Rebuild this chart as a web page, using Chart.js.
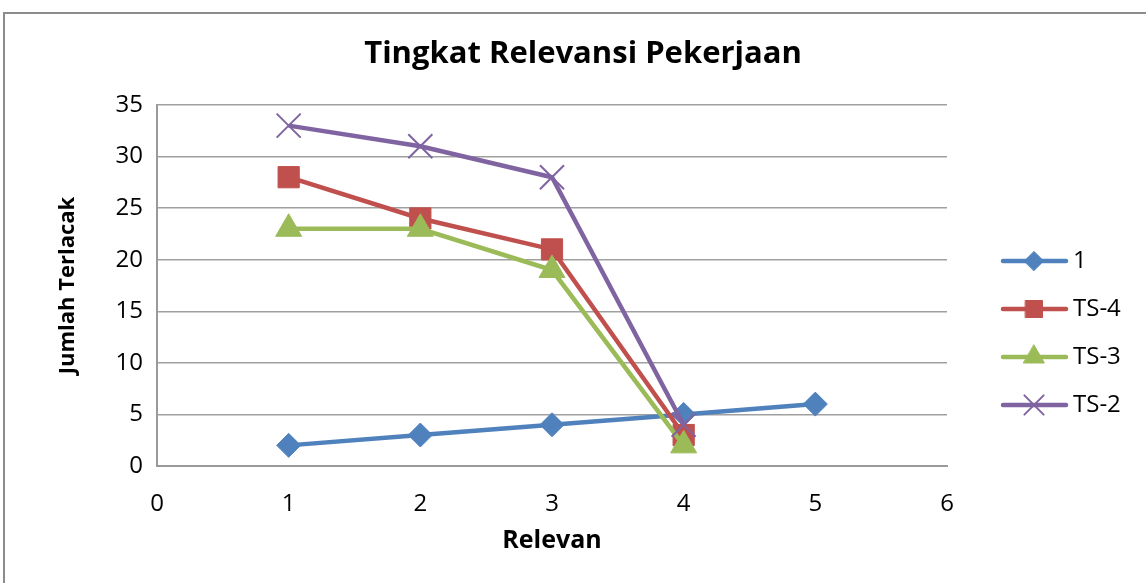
<!DOCTYPE html>
<html>
<head>
<meta charset="utf-8">
<script src="https://cdn.jsdelivr.net/npm/chart.js@4.4.0/dist/chart.umd.min.js"></script>
<style>
body{margin:0;background:#fff;}
#frame{position:absolute;left:3px;top:12px;width:1170px;height:600px;border:2px solid #8c8c8c;}
#wrap{position:absolute;left:0;top:0;width:1146px;height:583px;}
</style>
</head>
<body>
<div id="frame"></div>
<div id="wrap"><canvas id="chart"></canvas></div>
<script>
// data
var chartTitle = 'Tingkat Relevansi Pekerjaan'
var xTitle = 'Relevan'
var yTitle = 'Jumlah Terlacak'
var names = ['1', 'TS-4', 'TS-3', 'TS-2']
var x1 = [1, 2, 3, 4, 5]
var s1 = [2, 3, 4, 5, 6]
var xTs = [1, 2, 3, 4]
var ts4 = [28, 24, 21, 3]
var ts3 = [23, 23, 19, 2]
var ts2 = [33, 31, 28, 4]
var xMin = 0, xMax = 6, yMin = 0, yMax = 35

function pts(xs, ys){
    return xs.map((x, i) => ({x: x, y: ys[i]}))
}

var font = '"Open Sans", "DejaVu Sans", sans-serif'

function series(label, data, color, style, radius, order){
    return {
        label: label,
        data: data,
        showLine: true,
        borderColor: color,
        backgroundColor: color,
        borderWidth: 4.5,
        pointStyle: style,
        pointRadius: radius,
        pointHoverRadius: radius,
        pointBackgroundColor: color,
        pointBorderColor: color,
        pointBorderWidth: style == 'crossRot' ? 2 : 1,
        order: order
    }
}

// draw title and the excel-like legend (line with marker in middle)
var extras = {
    id: 'extras',
    afterDraw(chart){
        var ctx = chart.ctx
        ctx.save()
        ctx.fillStyle = '#000'
        ctx.font = 'bold 31px ' + font
        ctx.textAlign = 'center'
        ctx.textBaseline = 'middle'
        ctx.fillText(chartTitle, 583, 54)

        chart.data.datasets.forEach((ds, i) => {
            var y = 261 + i * 48
            ctx.strokeStyle = ds.borderColor
            ctx.lineWidth = 4.5
            ctx.lineCap = 'round'
            ctx.beginPath()
            ctx.moveTo(1003, y)
            ctx.lineTo(1066, y)
            ctx.stroke()
            ctx.fillStyle = ds.pointBackgroundColor
            ctx.strokeStyle = ds.pointBorderColor
            ctx.lineWidth = ds.pointBorderWidth
            Chart.helpers.drawPoint(ctx, {
                pointStyle: ds.pointStyle,
                radius: ds.pointRadius * 0.8,
                borderWidth: ds.pointBorderWidth,
                rotation: 0
            }, 1034, y)
            ctx.fillStyle = '#000'
            ctx.font = '24px ' + font
            ctx.textAlign = 'left'
            ctx.fillText(ds.label, 1073, y)
        })
        ctx.restore()
    }
}

var ctx = document.getElementById('chart').getContext('2d')
var chart = new Chart(ctx, {
    type: 'scatter',
    plugins: [extras],
    data: {
        datasets: [
            series(names[0], pts(x1, s1), '#4F81BD', 'rectRot', 12, 3),
            series(names[1], pts(xTs, ts4), '#C0504D', 'rect', 15, 2),
            series(names[2], pts(xTs, ts3), '#9BBB59', 'triangle', 15, 1),
            series(names[3], pts(xTs, ts2), '#8064A2', 'crossRot', 17, 0)
        ]
    },
    options: {
        responsive: true,
        maintainAspectRatio: false,
        animation: false,
        layout: {
            padding: {top: 105, right: 199, bottom: 7, left: 0}
        },
        plugins: {
            legend: {display: false},
            tooltip: {enabled: false}
        },
        scales: {
            x: {
                type: 'linear',
                min: xMin,
                max: xMax,
                afterFit: (s) => { s.height = 110 },
                grid: {display: false},
                border: {display: true, color: '#9a9a9a', width: 2},
                ticks: {
                    stepSize: 1,
                    padding: 16,
                    color: '#000',
                    font: {family: font, size: 24}
                },
                title: {
                    display: true,
                    text: xTitle,
                    color: '#000',
                    padding: {top: 0, bottom: 20},
                    font: {family: font, size: 25, weight: 'bold'}
                }
            },
            y: {
                min: yMin,
                max: yMax,
                afterFit: (s) => { s.width = 157 },
                grid: {color: '#a0a0a0', lineWidth: 1.5, drawTicks: false},
                border: {display: true, color: '#9a9a9a', width: 2},
                ticks: {
                    stepSize: 5,
                    padding: 14,
                    color: '#000',
                    font: {family: font, size: 24}
                },
                title: {
                    display: true,
                    text: yTitle,
                    color: '#000',
                    padding: {top: 55, bottom: 0},
                    font: {family: font, size: 22, weight: 'bold'}
                }
            }
        }
    }
})
</script>
</body>
</html>
